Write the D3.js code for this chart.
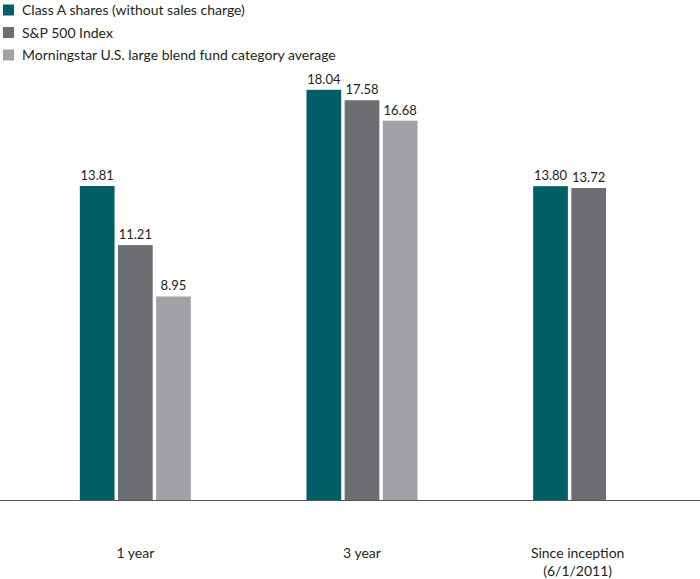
<!DOCTYPE html>
<html><head><meta charset="utf-8">
<script src="https://cdn.jsdelivr.net/npm/d3@7"></script>
<style>body{margin:0;background:#fff}svg{display:block}text{font-family:Lato,"Open Sans",sans-serif;fill:#231f20}</style>
</head><body><svg id="c" width="700" height="579"></svg>
<script>
const categories = ["1 year", "3 year", "Since inception"];
const categorySub = ["", "", "(6/1/2011)"];
const seriesNames = ["Class A shares (without sales charge)", "S&P 500 Index", "Morningstar U.S. large blend fund category average"];
const classA = [13.81, 18.04, 13.80];
const sp500 = [11.21, 17.58, 13.72];
const morningstar = [8.95, 16.68, null];
const colors = ["#005f66", "#6d6e71", "#a0a2a5"];

const series = [classA, sp500, morningstar];
const svg = d3.select("#c");
const baseY = 500;
const y = d3.scaleLinear().domain([0, 20]).range([baseY, baseY - 20 * 22.74]);
const x0 = d3.scaleBand().domain(categories).range([22, 702]).paddingInner(0).paddingOuter(0);
const x1 = d3.scaleBand().domain(d3.range(3)).range([0, 111]).paddingInner(0.09);
const groupOffset = (x0.bandwidth() - 111) / 2;

categories.forEach((c, ci) => {
  const g = svg.append("g").attr("transform", `translate(${x0(c) + groupOffset},0)`);
  series.forEach((s, si) => {
    const v = s[ci];
    if (v == null) return;
    g.append("rect").attr("x", x1(si)).attr("width", x1.bandwidth())
      .attr("y", y(v)).attr("height", baseY - y(v)).attr("fill", colors[si]);
    g.append("text").attr("x", x1(si) + x1.bandwidth() / 2).attr("y", y(v) - 6)
      .attr("text-anchor", "middle").attr("font-size", 13).text(v.toFixed(2));
  });
});

svg.append("line").attr("x1", 0).attr("x2", 700).attr("y1", baseY + 0.5).attr("y2", baseY + 0.5)
  .attr("stroke", "#58595b").attr("stroke-width", 1.2);

categories.forEach((c, ci) => {
  const cx = x0(c) + x0.bandwidth() / 2 - (ci === 2 ? 11 : 0);
  svg.append("text").attr("x", cx).attr("y", 558).attr("text-anchor", "middle").attr("font-size", 14).text(c);
  if (categorySub[ci]) svg.append("text").attr("x", cx).attr("y", 576).attr("text-anchor", "middle").attr("font-size", 14).text(categorySub[ci]);
});

const leg = svg.append("g");
seriesNames.forEach((n, i) => {
  const ly = 10 + i * 22.5;
  leg.append("rect").attr("x", 3).attr("y", ly - 5.5).attr("width", 11).attr("height", 11).attr("fill", colors[i]);
  leg.append("text").attr("x", 22).attr("y", ly + 5).attr("font-size", 14).text(n);
});
</script></body></html>
